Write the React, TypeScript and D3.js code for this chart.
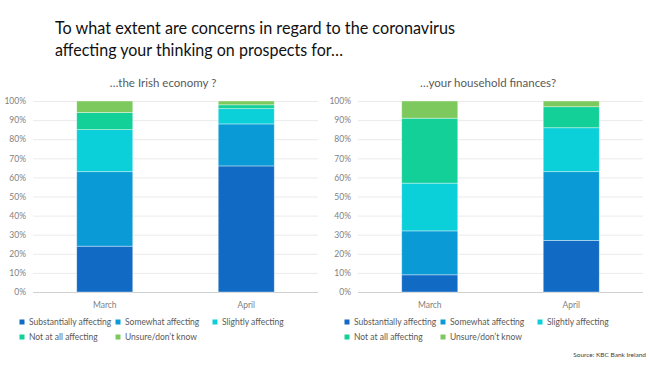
import { useEffect, useRef } from 'react';
import * as d3 from 'd3';

const W = 650, H = 365;
const FONT = 'Lato, "Open Sans", sans-serif';

const months = ['March', 'April'];
const seriesNames = [
  'Substantially affecting',
  'Somewhat affecting',
  'Slightly affecting',
  'Not at all affecting',
  'Unsure/don\u2019t know',
];
const seriesColors = ['#116ac4', '#0a9bd6', '#0bd0d9', '#13cf98', '#7dc95e'];
const yTicks = [0, 10, 20, 30, 40, 50, 60, 70, 80, 90, 100];

// ...the Irish economy
const economySubstantially = [24, 66];
const economySomewhat = [39, 22];
const economySlightly = [22, 8];
const economyNotAtAll = [9, 2];
const economyUnsure = [6, 2];

// ...your household finances
const householdSubstantially = [9, 27];
const householdSomewhat = [23, 36];
const householdSlightly = [25, 23];
const householdNotAtAll = [34, 11];
const householdUnsure = [9, 3];

const panels = [
  {
    title: '\u2026the Irish economy ?',
    offset: 0,
    series: [economySubstantially, economySomewhat, economySlightly, economyNotAtAll, economyUnsure],
  },
  {
    title: '\u2026your household finances?',
    offset: 325,
    series: [householdSubstantially, householdSomewhat, householdSlightly, householdNotAtAll, householdUnsure],
  },
];

const PLOT_L = 33, PLOT_R = 318, PLOT_T = 101, PLOT_B = 292;

export default function App() {
  const svgRef = useRef<SVGSVGElement>(null);

  useEffect(() => {
    const svg = d3.select(svgRef.current);
    svg.selectAll('*').remove();

    svg.append('rect').attr('width', W).attr('height', H).attr('fill', '#fff');

    // Title (two lines)
    const title = svg.append('g')
      .attr('font-family', FONT)
      .attr('font-size', 17.5)
      .attr('fill', '#111');
    title.append('text').attr('x', 55).attr('y', 34)
      .attr('textLength', 400).attr('lengthAdjust', 'spacingAndGlyphs')
      .text('To what extent are concerns in regard to the coronavirus');
    title.append('text').attr('x', 55).attr('y', 56)
      .attr('textLength', 288).attr('lengthAdjust', 'spacingAndGlyphs')
      .text('affecting your thinking on prospects for\u2026');

    const y = d3.scaleLinear().domain([0, 100]).range([PLOT_B, PLOT_T]);
    const x = d3.scaleBand()
      .domain(months)
      .range([PLOT_L, PLOT_R])
      .paddingInner(0.604)
      .paddingOuter(0.309);

    panels.forEach((p) => {
      const g = svg.append('g').attr('transform', `translate(${p.offset},0)`);

      g.append('text')
        .attr('x', 163)
        .attr('y', 87)
        .attr('text-anchor', 'middle')
        .attr('font-family', FONT)
        .attr('font-size', 11.5)
        .attr('fill', '#595959')
        .text(p.title);

      // Gridlines
      g.append('g')
        .attr('transform', `translate(${PLOT_L},0)`)
        .call(d3.axisLeft(y).tickValues(yTicks).tickSize(-(PLOT_R - PLOT_L)).tickFormat(() => ''))
        .call((gg) => {
          gg.select('.domain').remove();
          gg.selectAll('line').attr('stroke', (d) => (d === 0 ? '#d0d0d0' : '#ebebeb'));
        });

      // Y labels
      g.append('g')
        .attr('transform', `translate(${PLOT_L},0)`)
        .call(d3.axisLeft(y).tickValues(yTicks).tickSize(0).tickFormat((d) => `${d}%`))
        .call((gg) => {
          gg.select('.domain').remove();
          gg.selectAll('text')
            .attr('x', -7)
            .attr('font-family', FONT)
            .attr('font-size', 8.5)
            .attr('fill', '#7f7f7f');
        });

      // X labels
      g.append('g')
        .attr('transform', `translate(0,${PLOT_B})`)
        .call(d3.axisBottom(x).tickSize(0))
        .call((gg) => {
          gg.select('.domain').remove();
          gg.selectAll('text')
            .attr('dy', 0)
            .attr('y', 16)
            .attr('font-family', FONT)
            .attr('font-size', 8.5)
            .attr('fill', '#7f7f7f');
        });

      const rows = months.map((m, i) => {
        const r: Record<string, number | string> = { month: m };
        seriesNames.forEach((s, k) => { r[s] = p.series[k][i]; });
        return r;
      });
      const stacked = d3.stack<any>().keys(seriesNames)(rows);

      g.selectAll('.layer')
        .data(stacked)
        .join('g')
        .attr('fill', (_, k) => seriesColors[k])
        .selectAll('rect')
        .data((d) => d)
        .join('rect')
        .attr('x', (d) => x(d.data.month as string) as number)
        .attr('width', x.bandwidth())
        .attr('y', (d) => y(d[1]))
        .attr('height', (d) => y(d[0]) - y(d[1]))
        .attr('stroke', '#ffffff')
        .attr('stroke-opacity', 0.5)
        .attr('stroke-width', 0.75);

      // Legend
      const legendPos = [
        [22, 322], [118, 322], [215, 322],
        [22, 337], [118, 337],
      ];
      const lg = g.append('g');
      seriesNames.forEach((s, k) => {
        const [lx, ly] = legendPos[k];
        lg.append('rect')
          .attr('x', lx - 2.5)
          .attr('y', ly - 2.5)
          .attr('width', 5)
          .attr('height', 5)
          .attr('fill', seriesColors[k]);
        lg.append('text')
          .attr('x', lx + 7)
          .attr('y', ly + 3)
          .attr('font-family', FONT)
          .attr('font-size', 8.5)
          .attr('fill', '#595959')
          .text(s);
      });
    });

    svg.append('text')
      .attr('x', 646)
      .attr('y', 357)
      .attr('text-anchor', 'end')
      .attr('font-family', FONT)
      .attr('font-size', 6.5)
      .attr('fill', '#404040')
      .text('Source: KBC Bank Ireland');
  }, []);

  return (
    <svg
      ref={svgRef}
      width={W}
      height={H}
      viewBox={`0 0 ${W} ${H}`}
      style={{ position: 'absolute', left: 0, top: 0, display: 'block' }}
    />
  );
}
